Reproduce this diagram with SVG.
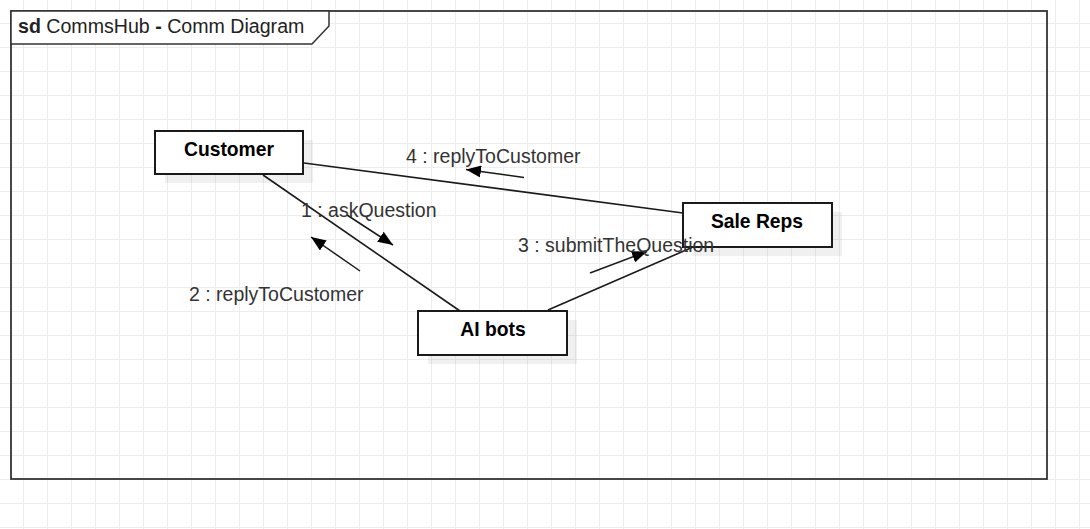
<svg xmlns="http://www.w3.org/2000/svg" width="1090" height="529" viewBox="0 0 1090 529">
  <defs>
    <pattern id="grid" width="24" height="24" patternUnits="userSpaceOnUse">
      <path d="M23.5,0 V24 M0,23.5 H24" fill="none" stroke="#ededed" stroke-width="1"/>
    </pattern>
    <marker id="block" markerUnits="userSpaceOnUse" markerWidth="16" markerHeight="12" refX="15" refY="6" orient="auto">
      <path d="M0,0 L15,6 L0,12 Z" fill="#000"/>
    </marker>
  </defs>
  <style>
    .node rect.box { fill: #fff; stroke: #1a1a1a; stroke-width: 2; }
    .node rect.shadow { fill: #000; fill-opacity: 0.06; }
    .node text { font-family: "Liberation Sans", Arial, sans-serif; font-size: 19.3px; font-weight: bold; fill: #000; text-anchor: middle; }
    .conn line { stroke: #1a1a1a; stroke-width: 1.6; fill: none; }
    .msg line { stroke: #1a1a1a; stroke-width: 1.5; marker-end: url(#block); }
    .lbl { font-family: "Liberation Sans", Arial, sans-serif; font-size: 19.5px; fill: #333; }
  </style>
  <rect width="1090" height="529" fill="#fff"/>
  <rect width="1090" height="529" fill="url(#grid)"/>

  <g id="frame">
    <rect x="11" y="11" width="1036" height="468" fill="none" stroke="#333" stroke-width="1.8"/>
    <path d="M11,11 L329,11 L329,26 L312,44 L11,44 Z" fill="#fff" stroke="#333" stroke-width="1.5"/>
    <text x="18" y="33" font-family="Liberation Sans, Arial, sans-serif" font-size="19.6" fill="#222"><tspan font-weight="bold">sd</tspan> CommsHub <tspan font-weight="bold">-</tspan> Comm Diagram</text>
  </g>

  <g id="customer" class="node">
    <rect class="shadow" x="165" y="140" width="148" height="43"/>
    <rect class="box" x="155" y="131" width="148" height="43"/>
    <text x="229" y="156">Customer</text>
  </g>

  <g id="sale-reps" class="node">
    <rect class="shadow" x="693" y="212" width="149" height="44"/>
    <rect class="box" x="683" y="203" width="149" height="44"/>
    <text x="757" y="228">Sale Reps</text>
  </g>

  <g id="ai-bots" class="node">
    <rect class="shadow" x="428" y="320" width="149" height="44"/>
    <rect class="box" x="418" y="311" width="149" height="44"/>
    <text x="493" y="336">AI bots</text>
  </g>

  <g id="connectors" class="conn">
    <line x1="304" y1="163" x2="683" y2="213"/>
    <line x1="263" y1="175" x2="460" y2="311" stroke-width="2"/>
    <line x1="548" y1="310" x2="693" y2="247"/>
  </g>

  <g id="messages" class="msg">
    <line x1="524" y1="177.5" x2="466" y2="169.5"/>
    <line x1="347" y1="215" x2="393" y2="245"/>
    <line x1="360" y1="271" x2="311" y2="237"/>
    <line x1="590" y1="273" x2="647" y2="251.5"/>
  </g>

  <g id="labels">
    <text class="lbl" x="406" y="163">4 : replyToCustomer</text>
    <text class="lbl" x="301" y="217">1 : askQuestion</text>
    <text class="lbl" x="189" y="301">2 : replyToCustomer</text>
    <text class="lbl" x="518" y="252">3 : submitTheQuestion</text>
  </g>
</svg>
